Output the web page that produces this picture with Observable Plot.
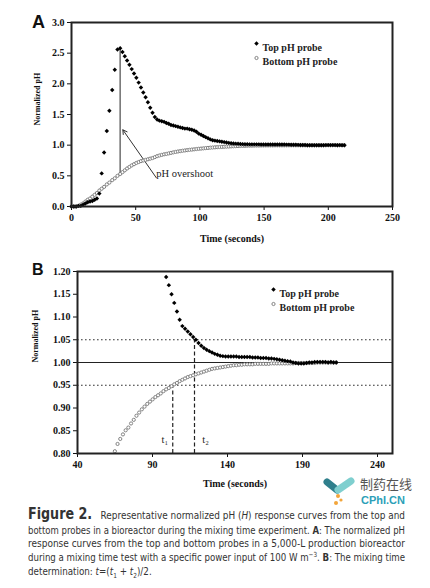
<!DOCTYPE html>
<html><head><meta charset="utf-8">
<script src="https://cdn.jsdelivr.net/npm/d3@7"></script>
<script src="https://cdn.jsdelivr.net/npm/@observablehq/plot@0.6"></script>
<style>
body{margin:0;width:430px;height:588px;background:#fff;position:relative;overflow:hidden;font-family:"Liberation Serif",serif}
#a{position:absolute;left:0;top:0}
#b{position:absolute;left:0;top:250px}
.panel{position:absolute;font-family:"Liberation Sans",Arial,sans-serif;font-weight:bold;color:#111}
.cap{position:absolute;left:28px;width:377px;font-family:"Liberation Sans Narrow","DejaVu Sans Condensed",sans-serif;font-size:10.5px;color:#333;line-height:14px;height:14px;white-space:nowrap}
.cap .in{display:inline-block;white-space:nowrap;transform-origin:0 50%}
.fig{font-size:15px;font-weight:bold;color:#333;margin-right:6px}
#logo{position:absolute;left:322px;top:476px}
#wm1{position:absolute;left:360px;top:476px;font-family:"Noto Sans CJK SC",sans-serif;font-size:13px;color:#555;line-height:16px}
#wm2{position:absolute;left:361px;top:494px;font-family:"Liberation Sans",Arial,sans-serif;font-weight:bold;font-size:11px;color:#2c9fb8;line-height:13px}
</style></head><body>
<div id="a"></div>
<div id="b"></div>
<div class="panel" style="left:32px;top:12px;font-size:18px">A</div>
<div class="panel" style="left:32px;top:261px;font-size:16px">B</div>
<div class="cap" style="top:506px;height:16px;line-height:16px"><span class="in"><span class="fig">Figure 2.</span> Representative normalized pH (<i>H</i>) response curves from the top and</span></div>
<div class="cap" style="top:523px"><span class="in">bottom probes in a bioreactor during the mixing time experiment. <b>A</b>: The normalized pH</span></div>
<div class="cap" style="top:536px"><span class="in">response curves from the top and bottom probes in a 5,000-L production bioreactor</span></div>
<div class="cap" style="top:550px"><span class="in">during a mixing time test with a specific power input of 100 W m<sup style="font-size:7px;line-height:0">−3</sup>. <b>B</b>: The mixing time</span></div>
<div class="cap last" style="top:564px"><span class="in">determination: <i>t</i>=(<i>t</i><sub style="font-size:7px;line-height:0">1</sub> + <i>t</i><sub style="font-size:7px;line-height:0">2</sub>)/2.</span></div>
<svg id="logo" width="36" height="32" viewBox="0 0 36 32">
<line x1="5" y1="6" x2="15" y2="14" stroke="#2f7f8c" stroke-width="7" stroke-linecap="round"/>
<line x1="16" y1="14" x2="29" y2="5" stroke="#7fcfcf" stroke-width="7" stroke-linecap="round"/>
<circle cx="16" cy="20" r="2" fill="#f2a53a"/><circle cx="19" cy="24" r="1.6" fill="#f2a53a"/><circle cx="14" cy="27" r="2" fill="#f2a53a"/>
</svg>
<div id="wm1">制药在线</div>
<div id="wm2">CPhI.CN</div>
<script>
// sample times (seconds)
const time = [0, 1.8, 3.6, 5.4, 7.2, 9, 10.8, 12.6, 14.4, 16.2, 18, 19.8, 21.7,
  23.5, 25.4, 27.5, 29.5, 31.7, 33.7, 35.8, 37.9,
  39.7, 41.5, 43.3, 45.1, 46.9, 48.7, 50.5, 52.3, 54.1, 55.9,
  57.7, 59.5, 61.3, 63.1, 64.9, 66.7, 68.5, 70.3, 72.1, 73.9,
  75.7, 77.5, 79.3, 81.1, 82.9, 84.7, 86.5, 88.3, 90.1, 91.9,
  93.7, 95.5, 97.3, 99.1, 100.9, 102.7, 104.5, 106.3, 108.1, 109.9,
  111.7, 113.5, 115.3, 117.1, 118.9, 120.7, 122.5, 124.3, 126.1, 127.9,
  129.7, 131.5, 133.3, 135.1, 136.9, 138.7, 140.5, 142.3, 144.1, 145.9,
  147.7, 149.5, 151.3, 153.1, 154.9, 156.7, 158.5, 160.3, 162.1, 163.9,
  165.7, 167.5, 169.3, 171.1, 172.9, 174.7, 176.5, 178.3, 180.1, 181.9,
  183.7, 185.5, 187.3, 189.1, 190.9, 192.7, 194.5, 196.3, 198.1, 199.9,
  201.7, 203.5, 205.3, 207.1, 208.9, 210.7, 212.5];
const topProbe = [0, 0, 0, 0.01, 0.01, 0.03, 0.05, 0.07, 0.08, 0.09, 0.11, 0.13, 0.21,
  0.54, 0.88, 1.23, 1.56, 1.90, 2.23, 2.56, 2.58,
  2.52, 2.45, 2.38, 2.31, 2.24, 2.17, 2.10, 2.02, 1.94, 1.86,
  1.78, 1.70, 1.61, 1.53, 1.46, 1.42, 1.40, 1.39, 1.38, 1.36,
  1.35, 1.33, 1.32, 1.31, 1.30, 1.29, 1.28, 1.27, 1.27, 1.26,
  1.25, 1.24, 1.22, 1.188, 1.170, 1.150, 1.131, 1.112, 1.094, 1.080,
  1.074, 1.068, 1.062, 1.056, 1.050, 1.043, 1.037, 1.032, 1.028, 1.025,
  1.022, 1.019, 1.017, 1.015, 1.014, 1.013, 1.013, 1.013, 1.013, 1.013,
  1.012, 1.012, 1.012, 1.012, 1.012, 1.011, 1.011, 1.011, 1.010, 1.010,
  1.010, 1.009, 1.009, 1.008, 1.007, 1.006, 1.005, 1.004, 1.003, 1.002,
  1.000, 0.999, 0.998, 0.998, 0.998, 0.999, 1.000, 1.000, 1.001, 1.001,
  1.001, 1.001, 1.001, 1.000, 1.001, 1.000, 1.000];
const bottomProbe = [0, 0, 0, 0.01, 0.03, 0.05, 0.08, 0.11, 0.13, 0.16, 0.19, 0.22, 0.26,
  0.29, 0.32, 0.36, 0.39, 0.43, 0.46, 0.50, 0.53,
  0.56, 0.59, 0.62, 0.645, 0.67, 0.69, 0.71, 0.725, 0.74, 0.75,
  0.76, 0.77, 0.78, 0.79, 0.805, 0.821, 0.832, 0.842, 0.851, 0.857,
  0.866, 0.874, 0.883, 0.890, 0.897, 0.903, 0.909, 0.914, 0.919, 0.924,
  0.928, 0.932, 0.937, 0.941, 0.944, 0.948, 0.952, 0.955, 0.959, 0.962,
  0.965, 0.968, 0.970, 0.972, 0.974, 0.976, 0.978, 0.980, 0.982, 0.984,
  0.986, 0.987, 0.988, 0.989, 0.990, 0.991, 0.992, 0.993, 0.994, 0.994,
  0.995, 0.995, 0.996, 0.996, 0.996, 0.996, 0.997, 0.997, 0.997, 0.997,
  0.997, 0.997, 0.998, 0.998, 0.998, 0.998, 0.998, 0.998, 0.998, 0.998,
  0.998, 0.999, 0.999, 0.999, 0.999, 0.999, 0.999, 0.999, 0.999, 1.0,
  1.0, 1.0, 1.0, 1.0, 1.0, 1.0, 1.0];
const seriesNames = ["Top pH probe", "Bottom pH probe"];
const xTicksA = [0, 50, 100, 150, 200, 250];
const yTicksA = [0, 0.5, 1.0, 1.5, 2.0, 2.5, 3.0];
const xTicksB = [40, 90, 140, 190, 240];
const yTicksB = [0.80, 0.85, 0.90, 0.95, 1.00, 1.05, 1.10, 1.15, 1.20];
const domainA = {x: [0, 250], y: [0, 3]};
const domainB = {x: [40, 250], y: [0.8, 1.2]};
const band = [0.95, 1.05];
const target = [1.0];
const t1 = 103.5, t2 = 118;
const overshootLabel = "pH overshoot";
const overshootArrow = [{x1: 66, y1: 0.47, x2: 40, y2: 1.25}];
const xLabel = "Time (seconds)";
const yLabel = "Normalized pH";

const rows = time.map((t, i) => ({t, top: topProbe[i], bottom: bottomProbe[i]}));
const peakIdx = d3.maxIndex(topProbe);
const peak = rows[peakIdx];

const font = {fontFamily: "'Liberation Serif', 'Times New Roman', serif", fontSize: "10px", fontWeight: "bold", color: "#111", background: "white"};

function legend(dx, dy) {
  return [
    Plot.dot([0], {frameAnchor: "top-left", dx, dy, symbol: "diamond2", r: 2, fill: "#000"}),
    Plot.text([seriesNames[0]], {frameAnchor: "top-left", dx: dx + 6, dy, text: d => d, textAnchor: "start", fill: "#222"}),
    Plot.dot([0], {frameAnchor: "top-left", dx, dy: dy + 14.5, r: 1.6, stroke: "#777", strokeWidth: 0.9, fill: "white"}),
    Plot.text([seriesNames[1]], {frameAnchor: "top-left", dx: dx + 6, dy: dy + 14.5, text: d => d, textAnchor: "start", fill: "#222"})
  ];
}

const plotA = Plot.plot({
  width: 430, height: 250,
  marginLeft: 71, marginRight: 38, marginTop: 22, marginBottom: 44,
  style: font,
  x: {domain: domainA.x, ticks: xTicksA, tickSize: 4, tickPadding: 3, label: null},
  y: {domain: domainA.y, ticks: yTicksA, tickFormat: d3.format(".1f"), tickSize: 4, tickPadding: 3, label: null},
  marks: [
    Plot.ruleX([peak], {x: "t", y1: "bottom", y2: "top", stroke: "#777", strokeWidth: 1.6}),
    Plot.arrow(overshootArrow, {x1: "x1", y1: "y1", x2: "x2", y2: "y2", stroke: "#333", strokeWidth: 1, headLength: 7}),
    Plot.text([overshootLabel], {x: overshootArrow[0].x1, y: overshootArrow[0].y1, text: d => d, textAnchor: "start", dx: 0, dy: -4, fontWeight: "normal", fontSize: 10.5, fill: "#222"}),
    Plot.dot(rows, {x: "t", y: "bottom", r: 1.6, stroke: "#777", strokeWidth: 0.9, fill: "white"}),
    Plot.dot(rows, {x: "t", y: "top", symbol: "diamond2", r: 2, fill: "#000"}),
    ...legend(185, 21),
    Plot.text([xLabel], {frameAnchor: "bottom", dy: 35, text: d => d, fontSize: 10}),
    Plot.text([yLabel], {frameAnchor: "left", dx: -34.5, dy: 11, rotate: -90, text: d => d, fontSize: 8}),
    Plot.frame({stroke: "#222", strokeWidth: 2})
  ]
});
document.getElementById("a").append(plotA);

const inB = (t, v) => t >= domainB.x[0] && t <= domainB.x[1] && v >= domainB.y[0] && v <= domainB.y[1];
const rowsBtop = rows.filter(d => inB(d.t, d.top));
const rowsBbot = rows.filter(d => inB(d.t, d.bottom));

const plotB = Plot.plot({
  width: 430, height: 250,
  marginLeft: 77, marginRight: 38, marginTop: 21, marginBottom: 47,
  style: font,
  x: {domain: domainB.x, ticks: xTicksB, tickSize: 4, tickPadding: 3, label: null},
  y: {domain: domainB.y, ticks: yTicksB, tickFormat: d3.format(".2f"), tickSize: 4, tickPadding: 3, label: null},
  marks: [
    Plot.ruleY(band, {stroke: "#333", strokeWidth: 1.2, strokeDasharray: "1.6,2.4"}),
    Plot.ruleY(target, {stroke: "#222", strokeWidth: 1}),
    Plot.ruleX([t1], {y1: domainB.y[0], y2: band[0], stroke: "#222", strokeWidth: 1.2, strokeDasharray: "4,2.5"}),
    Plot.ruleX([t2], {y1: domainB.y[0], y2: band[1], stroke: "#222", strokeWidth: 1.2, strokeDasharray: "4,2.5"}),
    Plot.text([t1], {x: d => d, y: 0.83, text: () => "t\u2081", dx: -8, fontWeight: "normal", fontSize: 10.5, fill: "#222"}),
    Plot.text([t2], {x: d => d, y: 0.83, text: () => "t\u2082", dx: 11, fontWeight: "normal", fontSize: 10.5, fill: "#222"}),
    Plot.dot(rowsBbot, {x: "t", y: "bottom", r: 1.6, stroke: "#777", strokeWidth: 0.9, fill: "white"}),
    Plot.dot(rowsBtop, {x: "t", y: "top", symbol: "diamond2", r: 2, fill: "#000"}),
    ...legend(196, 18),
    Plot.text([xLabel], {frameAnchor: "bottom", dy: 33, text: d => d, fontSize: 10}),
    Plot.text([yLabel], {frameAnchor: "left", dx: -42, dy: 0, rotate: -90, text: d => d, fontSize: 8}),
    Plot.frame({stroke: "#222", strokeWidth: 2})
  ]
});
document.getElementById("b").append(plotB);

// fit caption lines to the justified column width
const capW = 377;
const lines = [...document.querySelectorAll(".cap .in")];
const scales = [];
lines.forEach((el, i) => {
  const w = el.getBoundingClientRect().width;
  if (i < lines.length - 1) {
    const s = capW / w;
    scales.push(s);
    el.style.transform = `scaleX(${s})`;
  }
});
const meanScale = d3.mean(scales);
lines[lines.length - 1].style.transform = `scaleX(${meanScale})`;
</script>
</body></html>
